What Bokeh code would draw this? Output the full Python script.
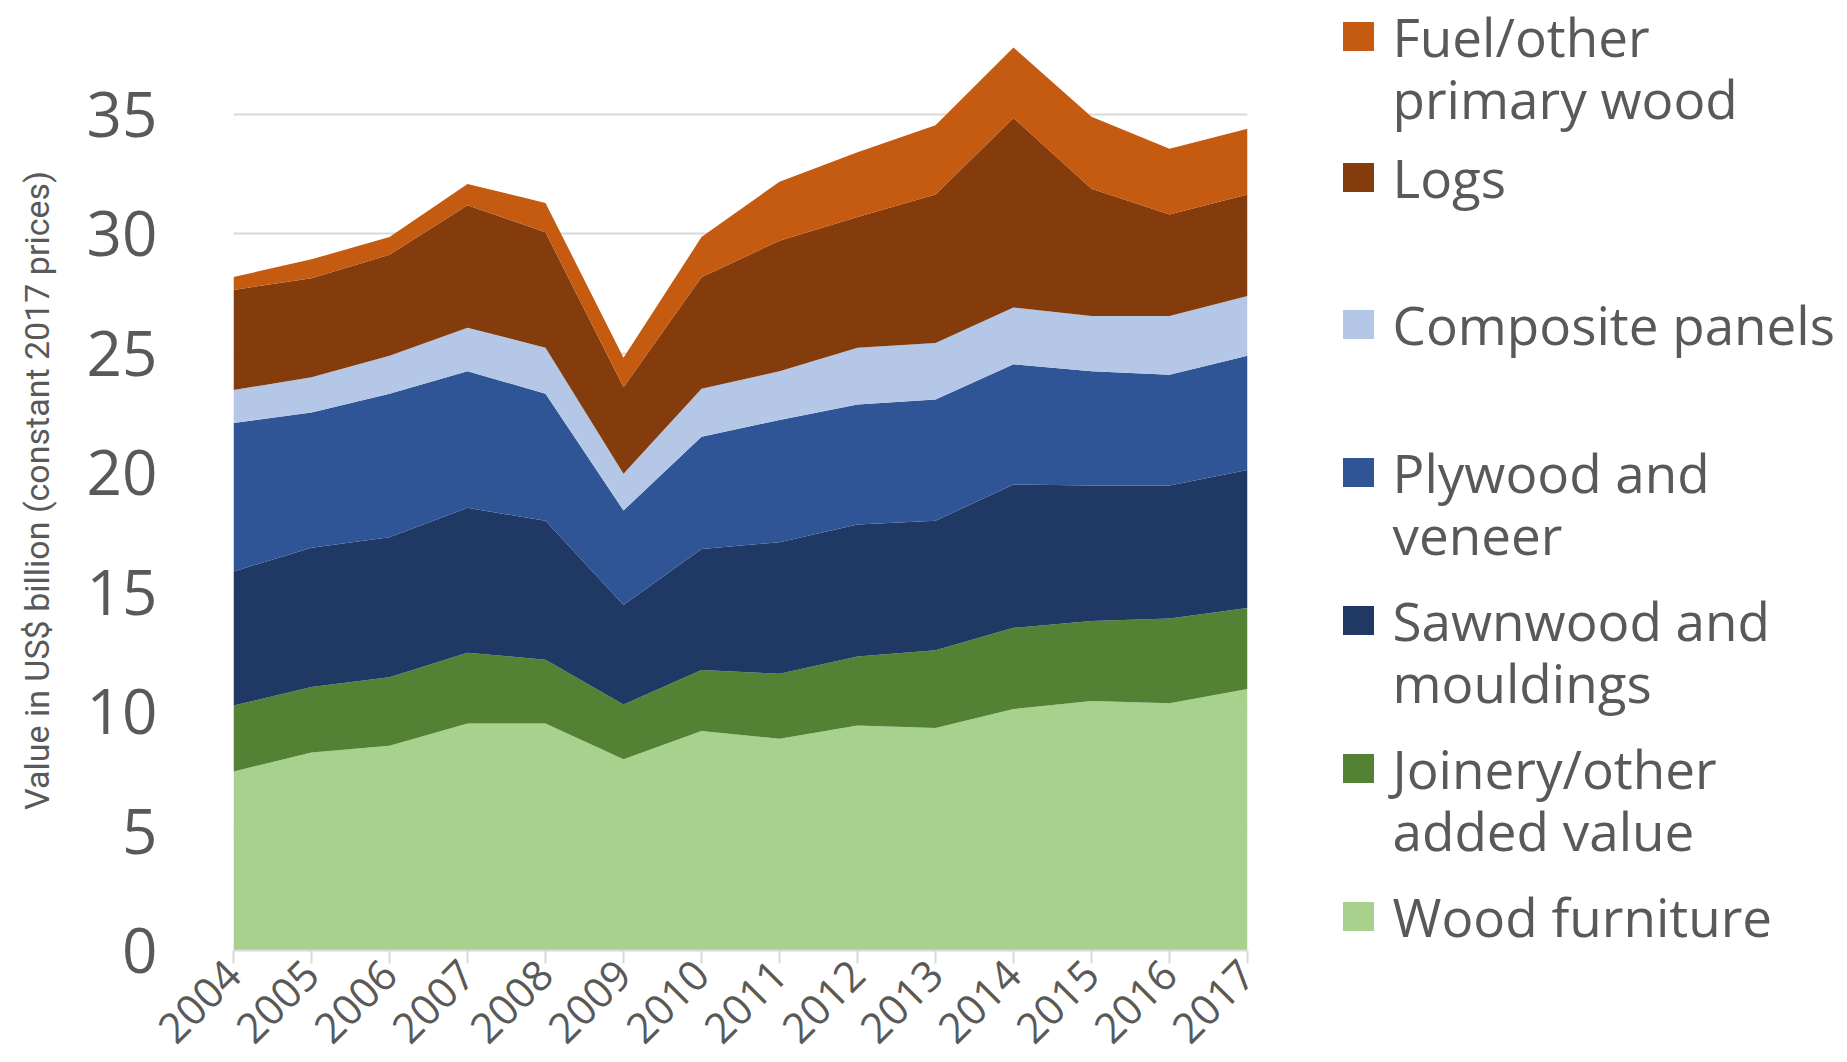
import math
from bokeh.plotting import figure
from bokeh.models import ColumnDataSource, Range1d, FixedTicker, Label
from bokeh.layouts import row
from bokeh.embed import file_html
from bokeh.resources import INLINE
from bokeh.core.properties import value

# ---------------- data ----------------
years = [2004, 2005, 2006, 2007, 2008, 2009, 2010, 2011, 2012, 2013, 2014, 2015, 2016, 2017]

wood_furniture = [7.49, 8.28, 8.57, 9.50, 9.50, 8.00, 9.18, 8.86, 9.41, 9.31, 10.10, 10.44, 10.34, 10.94]
joinery_other = [2.76, 2.75, 2.86, 2.96, 2.67, 2.29, 2.56, 2.72, 2.89, 3.25, 3.40, 3.35, 3.55, 3.39]
sawnwood = [5.61, 5.82, 5.86, 6.06, 5.81, 4.17, 5.06, 5.50, 5.52, 5.42, 6.00, 5.67, 5.57, 5.77]
plywood = [6.21, 5.66, 6.01, 5.72, 5.32, 3.95, 4.70, 5.12, 5.03, 5.07, 5.03, 4.78, 4.63, 4.78]
composite = [1.38, 1.48, 1.58, 1.82, 1.92, 1.54, 2.00, 2.04, 2.37, 2.37, 2.37, 2.31, 2.46, 2.51]
logs = [4.19, 4.14, 4.23, 5.12, 4.83, 3.62, 4.67, 5.46, 5.47, 6.21, 7.93, 5.32, 4.24, 4.24]
fuel_other = [0.54, 0.79, 0.74, 0.89, 1.23, 1.23, 1.68, 2.47, 2.71, 2.90, 2.95, 3.01, 2.76, 2.75]

# bottom to top stacking order
series_keys = ["furniture", "joinery", "sawnwood", "plywood", "composite", "logs", "fuel"]
series_values = [wood_furniture, joinery_other, sawnwood, plywood, composite, logs, fuel_other]
series_colors = ["#A9D18E", "#548235", "#203864", "#2F5597", "#B4C7E7", "#843C0C", "#C55A11"]

# legend (top to bottom), wrapped as in the original
legend_labels = [
    ["Fuel/other", "primary wood"],
    ["Logs"],
    ["Composite panels"],
    ["Plywood and", "veneer"],
    ["Sawnwood and", "mouldings"],
    ["Joinery/other", "added value"],
    ["Wood furniture"],
]
legend_colors = list(reversed(series_colors))

y_ticks = [0, 5, 10, 15, 20, 25, 30, 35]
y_axis_title = "Value in US$ billion (constant 2017 prices)"

TEXT = "#595959"
GRID = "#D9D9D9"

# ---------------- layout constants (page pixels) ----------------
TITLE_W = 70
FRAME_LEFT = 233
FRAME_W = 1014
FRAME_TOP = 0
FRAME_BOTTOM = 950
H = 1060
BORDER_BOTTOM = H - FRAME_BOTTOM
MAIN_W = (FRAME_LEFT - TITLE_W) + FRAME_W + 50
PX_PER_UNIT = 23.9
Y_END = (FRAME_BOTTOM - FRAME_TOP) / PX_PER_UNIT

# ---------------- y-axis title panel ----------------
tfig = figure(
    width=TITLE_W, height=H,
    x_range=Range1d(0, TITLE_W), y_range=Range1d(0, FRAME_BOTTOM - FRAME_TOP),
    output_backend="svg", toolbar_location=None,
    min_border_left=0, min_border_right=0,
    min_border_top=FRAME_TOP, min_border_bottom=BORDER_BOTTOM,
)
tfig.axis.visible = False
tfig.grid.visible = False
tfig.outline_line_color = None
tfig.background_fill_color = "white"
tfig.border_fill_color = "white"
tfig.text(x=[36], y=[FRAME_BOTTOM - 490], text=[y_axis_title], angle=math.pi / 2,
          text_align="center", text_baseline="middle",
          text_font=value("Roboto"), text_font_size="34px", text_color=TEXT)

# ---------------- main chart ----------------
data = {"year": years}
for k, v in zip(series_keys, series_values):
    data[k] = v
source = ColumnDataSource(data)

p = figure(
    width=MAIN_W, height=H,
    x_range=Range1d(years[0], years[-1]),
    y_range=Range1d(0, Y_END),
    output_backend="svg", toolbar_location=None,
    min_border_left=FRAME_LEFT - TITLE_W, min_border_right=50,
    min_border_top=FRAME_TOP, min_border_bottom=BORDER_BOTTOM,
)
p.outline_line_color = None
p.background_fill_color = "white"
p.border_fill_color = "white"

p.varea_stack(stackers=series_keys, x="year", color=series_colors, source=source)

# grid
p.xgrid.visible = False
p.ygrid.ticker = FixedTicker(ticks=y_ticks)
p.ygrid.grid_line_color = GRID
p.ygrid.grid_line_width = 2

# y axis
yax = p.yaxis[0]
yax.ticker = FixedTicker(ticks=y_ticks)
yax.axis_line_color = None
yax.major_tick_line_color = None
yax.minor_tick_line_color = None
yax.major_label_text_font = "Open Sans"
yax.major_label_text_font_size = "62px"
yax.major_label_text_color = TEXT
yax.major_label_standoff = 70

# x axis
xax = p.xaxis[0]
xax.ticker = FixedTicker(ticks=years)
xax.axis_line_color = GRID
xax.axis_line_width = 2
xax.major_tick_line_color = GRID
xax.major_tick_line_width = 2
xax.major_tick_in = 0
xax.major_tick_out = 13
xax.minor_tick_line_color = None
xax.major_label_orientation = math.pi / 4
xax.major_label_text_font = "Open Sans"
xax.major_label_text_font_size = "42px"
xax.major_label_text_color = TEXT
xax.major_label_standoff = 4

# ---------------- legend panel ----------------
LX0 = TITLE_W + MAIN_W
LW = 545
leg = figure(
    width=LW, height=H,
    x_range=Range1d(LX0, LX0 + LW), y_range=Range1d(FRAME_BOTTOM, FRAME_TOP),
    output_backend="svg", toolbar_location=None,
    min_border_left=0, min_border_right=0,
    min_border_top=FRAME_TOP, min_border_bottom=BORDER_BOTTOM,
)
leg.axis.visible = False
leg.grid.visible = False
leg.outline_line_color = None
leg.background_fill_color = "white"
leg.border_fill_color = "white"

item_first_lines = [36, 177, 324, 472, 620, 768, 916]
line_gap = 62
sq_x, sq_y, sq_c = [], [], []
for yc, lines, col in zip(item_first_lines, legend_labels, legend_colors):
    sq_x.append(1358)
    sq_y.append(yc)
    sq_c.append(col)
    for j, ln in enumerate(lines):
        leg.add_layout(Label(
            x=1392, y=yc + j * line_gap, text=ln,
            text_baseline="middle", text_align="left",
            text_font="Open Sans", text_font_size="53px", text_color=TEXT,
        ))

leg.rect(x=sq_x, y=sq_y, width=31, height=29, fill_color=sq_c, line_color=None)

layout = row(tfig, p, leg)
open("out.html", "w").write(file_html(layout, INLINE))
